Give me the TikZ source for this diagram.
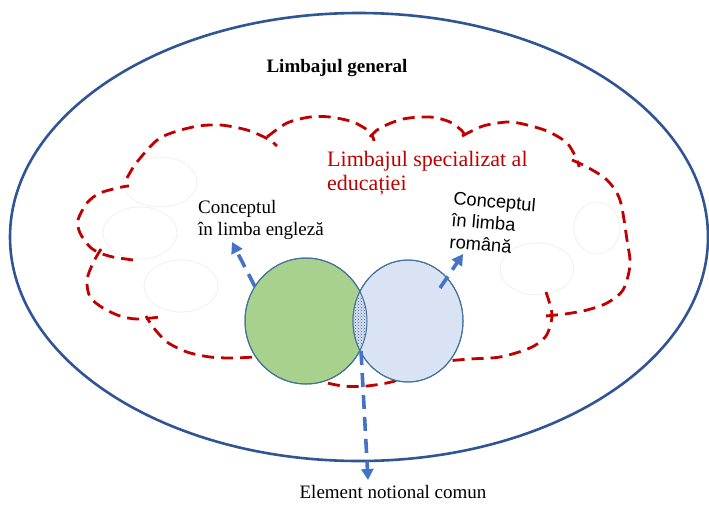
\documentclass[tikz,border=0pt]{standalone}
\usepackage{fontspec}
\setmainfont{Liberation Serif}
\newfontfamily\arialfont{Liberation Sans}
\usetikzlibrary{arrows.meta,shapes.geometric,patterns}
\definecolor{ringblue}{HTML}{2F5597}
\definecolor{cloudred}{HTML}{C00000}
\definecolor{ptrblue}{HTML}{4472C4}
\definecolor{engreen}{HTML}{A9D18E}
\definecolor{rolight}{HTML}{DAE3F3}
\definecolor{rimblue}{HTML}{41719C}
\definecolor{ghost}{HTML}{EFEFEF}
\begin{document}
\begin{tikzpicture}[x=1pt,y=-1pt,
  outerring/.style={draw=ringblue,line width=2.6pt},
  bump/.style={draw=cloudred,line width=2.8pt,dash pattern=on 12pt off 7pt},
  ghostring/.style={draw=ghost,line width=0.8pt},
  venn/.style={ellipse,draw=rimblue,line width=1pt,inner sep=0pt,outer sep=0pt},
  vennrim/.style={draw=rimblue,line width=1pt},
  ptr/.style={draw=ptrblue,line width=3.6pt,dash pattern=on 14pt off 8pt,
              -{Triangle[length=11pt,width=12pt]}},
  serifnote/.style={font=\fontsize{19}{22}\selectfont,inner sep=0pt,align=left},
  sansnote/.style={font=\arialfont\fontsize{18.3}{22}\selectfont,inner sep=0pt,align=left},
  speclabel/.style={font=\fontsize{22}{24}\selectfont,text=cloudred,inner sep=0pt,align=left},
  genlabel/.style={font=\bfseries\fontsize{19}{22}\selectfont,inner sep=0pt}]

\useasboundingbox (0,0) rectangle (709,504);

% general language: outer ellipse
\draw[outerring] (359,237) ellipse [x radius=349, y radius=224];

% faint helper ellipses inside the cloud
\draw[ghostring] (160,182) ellipse [x radius=37, y radius=25];
\draw[ghostring] (140,233) ellipse [x radius=37, y radius=26];
\draw[ghostring] (181,286) ellipse [x radius=37, y radius=26];
\draw[ghostring] (597,228) ellipse [x radius=23, y radius=26];
\draw[ghostring] (537,269) ellipse [x radius=37, y radius=26];

% specialised language: dashed cloud, one arc per bump
\draw[bump] plot[smooth] coordinates {(127,178) (137,162) (160,138) (193,127) (220,125) (247,130) (268,139) (277,146)};
\draw[bump] plot[smooth] coordinates {(267,137) (287,123) (310,117) (330,117) (353,122) (370,132) (374,141)};
\draw[bump] plot[smooth] coordinates {(370,137) (380,128) (403,119) (430,117) (450,122) (463,132) (466,141)};
\draw[bump] plot[smooth] coordinates {(462,136) (483,126) (507,122) (523,124) (547,131) (567,143) (577,160) (579,167)};
\draw[bump] plot[smooth] coordinates {(572,160) (587,167) (607,180) (620,200) (627,240) (630,265) (623,290) (607,303) (587,310) (565,314) (545,316)};
\draw[bump] plot[smooth] coordinates {(546,292) (552,315) (546,336) (530,348) (500,357) (470,359) (440,362) (425,368)};
\draw[bump] plot[smooth] coordinates {(445,352) (420,370) (395,381) (367,386) (343,386) (318,380) (295,366)};
\draw[bump] plot[smooth] coordinates {(290,357) (258,357) (233,358) (210,357) (187,352) (167,342) (153,327) (146,316)};
\draw[bump] plot[smooth] coordinates {(101,249) (93,263) (87,280) (90,297) (103,308) (120,316) (137,319) (160,317)};
\draw[bump] plot[smooth] coordinates {(133,260) (113,257) (100,253) (90,247) (80,233) (78,220) (87,203) (100,193) (122,187) (129,186)};

% labels (multi-line nodes are placed by the baseline of their last line)
\node[genlabel, anchor=base] (gen) at (337,72) {Limbajul general};
\node[speclabel, anchor=base west] (spec) at (327,190) {Limbajul specializat al\\educației};
\node[serifnote, anchor=base west] (enlabel) at (198,235) {Conceptul\\în limba engleză};
\node[sansnote, anchor=base west, rotate=-5] (rolabel) at (449,248) {Conceptul\\în limba\\română};
\node[serifnote, anchor=base] (common) at (393,498) {Element notional comun};

% the two concepts
\node[venn, fill=engreen, minimum width=122pt, minimum height=126pt] (en) at (306,321) {};
\node[venn, fill=rolight, minimum width=110pt, minimum height=122pt] (ro) at (408,321) {};

% shared notional element: the overlap, stippled
\begin{scope}
  \clip (en.center) ellipse [x radius=61, y radius=63];
  \fill[rolight] (ro.center) ellipse [x radius=55, y radius=61];
  \fill[pattern=crosshatch dots, pattern color=ringblue] (ro.center) ellipse [x radius=55, y radius=61];
\end{scope}
\draw[vennrim] (en.center) ellipse [x radius=61, y radius=63];
\draw[vennrim] (ro.center) ellipse [x radius=55, y radius=61];

% pointers
\coordinate (enTip) at (232,242);
\coordinate (roTail) at (440,288);
\coordinate (roTip) at (463,254);
\coordinate (lensBot) at (361,351);
\coordinate (commonTip) at (368,480);
\draw[ptr] (en.146) -- (enTip);
\draw[ptr] (roTail) -- (roTip);
\draw[ptr] (lensBot) -- (commonTip);
\end{tikzpicture}
\end{document}
